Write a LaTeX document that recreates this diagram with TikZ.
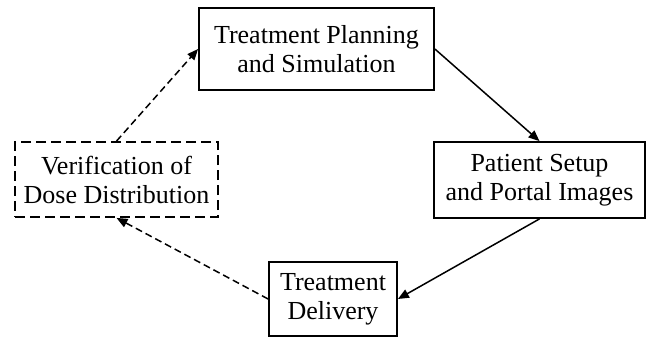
\documentclass[tikz,border=0pt]{standalone}
\usepackage{fontspec}
\setmainfont{Liberation Serif}
\usetikzlibrary{arrows.meta}
\begin{document}
\begin{tikzpicture}[x=1pt,y=-1pt,
  boxstyle/.style={draw=black, line width=1.8pt, align=center, inner sep=0pt,
    font=\fontsize{26}{29}\selectfont},
  dashbox/.style={boxstyle, dash pattern=on 10pt off 5pt},
  flow/.style={line width=1.5pt, -{Triangle[length=11pt,width=9pt]}},
  dflow/.style={flow, dash pattern=on 7pt off 4pt}]
\useasboundingbox (0,0) rectangle (649,338);
\node[boxstyle, minimum width=235pt, minimum height=82pt] (plan) at (316.5,49) {Treatment Planning\\and Simulation};
\node[boxstyle, minimum width=211pt, minimum height=76pt] (setup) at (539.5,180) {Patient Setup\\and Portal Images};
\node[boxstyle, minimum width=128pt, minimum height=74pt] (deliv) at (333,299) {Treatment\\Delivery};
\node[dashbox, minimum width=203pt, minimum height=75pt] (verif) at (116.5,179.5) {Verification of\\Dose Distribution};
\draw[flow] (plan.east) -- (setup.north);
\draw[flow] (setup.south) -- (deliv.east);
\draw[dflow] (deliv.west) -- (verif.south);
\draw[dflow] (verif.north) -- (plan.west);
\end{tikzpicture}
\end{document}
